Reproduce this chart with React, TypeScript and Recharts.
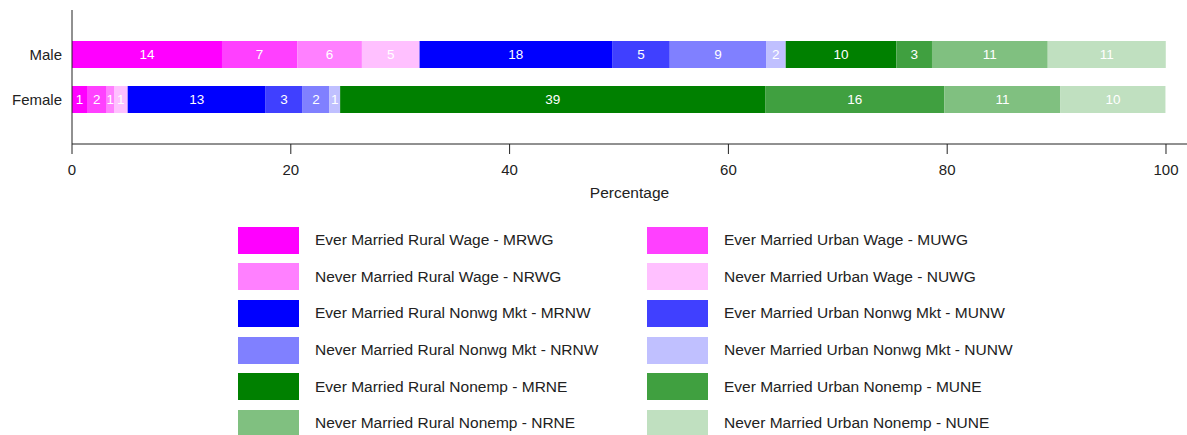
import React from 'react';
import { BarChart, Bar, XAxis, YAxis, LabelList, Legend } from 'recharts';

const categories = ['Male', 'Female'];

const mrwg = [13.71, 1.37];
const muwg = [6.88, 1.8];
const nrwg = [5.91, 0.67];
const nuwg = [5.27, 1.25];
const mrnw = [17.6, 12.61];
const munw = [5.27, 3.38];
const nrnw = [8.8, 2.45];
const nunw = [1.8, 0.98];
const mrne = [10.12, 38.85];
const mune = [3.25, 16.39];
const nrne = [10.58, 10.6];
const nune = [10.79, 9.6];

const xTicks = [0, 20, 40, 60, 80, 100];

const seriesKeys = ['MRWG', 'MUWG', 'NRWG', 'NUWG', 'MRNW', 'MUNW', 'NRNW', 'NUNW', 'MRNE', 'MUNE', 'NRNE', 'NUNE'];
const seriesValues = [mrwg, muwg, nrwg, nuwg, mrnw, munw, nrnw, nunw, mrne, mune, nrne, nune];
const seriesNames = [
  'Ever Married Rural Wage - MRWG',
  'Ever Married Urban Wage - MUWG',
  'Never Married Rural Wage - NRWG',
  'Never Married Urban Wage - NUWG',
  'Ever Married Rural Nonwg Mkt - MRNW',
  'Ever Married Urban Nonwg Mkt - MUNW',
  'Never Married Rural Nonwg Mkt - NRNW',
  'Never Married Urban Nonwg Mkt - NUNW',
  'Ever Married Rural Nonemp - MRNE',
  'Ever Married Urban Nonemp - MUNE',
  'Never Married Rural Nonemp - NRNE',
  'Never Married Urban Nonemp - NUNE',
];
const seriesColors = [
  '#ff00ff', '#ff40ff', '#ff80ff', '#ffc0ff',
  '#0000ff', '#4040ff', '#8080ff', '#c0c0ff',
  '#008000', '#40a040', '#80c080', '#c0e0c0',
];

const data = categories.map((name, i) => {
  const row: Record<string, any> = { name };
  seriesKeys.forEach((k, j) => {
    row[k] = seriesValues[j][i];
  });
  return row;
});

const FONT = '"Liberation Sans", Arial, sans-serif';

const LegendContent = () => (
  <div style={{ position: 'relative', width: 1187, height: 231, fontFamily: FONT }}>
    {seriesKeys.map((k, i) => {
      const row = Math.floor(i / 2);
      const col = i % 2;
      const left = col === 0 ? 238 : 647;
      const top = 22.7 + row * 36.6;
      return (
        <div key={k} style={{ position: 'absolute', left, top, height: 27, display: 'flex', alignItems: 'center' }}>
          <div style={{ width: 61, height: 27, background: seriesColors[i] }} />
          <span style={{ marginLeft: 16, fontSize: 15.5, color: '#222', whiteSpace: 'nowrap' }}>{seriesNames[i]}</span>
        </div>
      );
    })}
  </div>
);

export default function App() {
  return (
    <div style={{ width: 1187, height: 435 }}>
      <style>{'html,body{margin:0;padding:0;overflow:hidden;}'}</style>
      <BarChart
        width={1187}
        height={435}
        data={data}
        layout="vertical"
        margin={{ top: 10, right: 0, bottom: 0, left: 0 }}
        style={{ fontFamily: FONT }}
      >
        <XAxis
          type="number"
          domain={[0, 101.92]}
          allowDataOverflow
          ticks={xTicks}
          tickSize={10}
          tickMargin={10}
          height={60}
          stroke="#222"
          tick={{ fill: '#222', fontSize: 15 }}
          label={{ value: 'Percentage', position: 'insideBottom', offset: 6, fill: '#222', fontSize: 15.5 }}
        />
        <YAxis
          type="category"
          dataKey="name"
          width={72}
          tickLine={false}
          tickSize={0}
          tickMargin={10}
          padding={{ top: 22, bottom: 22 }}
          stroke="#222"
          tick={{ fill: '#222', fontSize: 15 }}
        />
        <Legend verticalAlign="bottom" content={LegendContent} wrapperStyle={{ left: 0, width: 1187 }} />
        {seriesKeys.map((k, i) => (
          <Bar key={k} dataKey={k} name={seriesNames[i]} stackId="a" fill={seriesColors[i]} barSize={27} isAnimationActive={false}>
            <LabelList
              dataKey={k}
              position="center"
              fill="#ffffff"
              fontSize={13.5}
              formatter={(v: any) => Math.round(Number(v))}
            />
          </Bar>
        ))}
      </BarChart>
    </div>
  );
}
